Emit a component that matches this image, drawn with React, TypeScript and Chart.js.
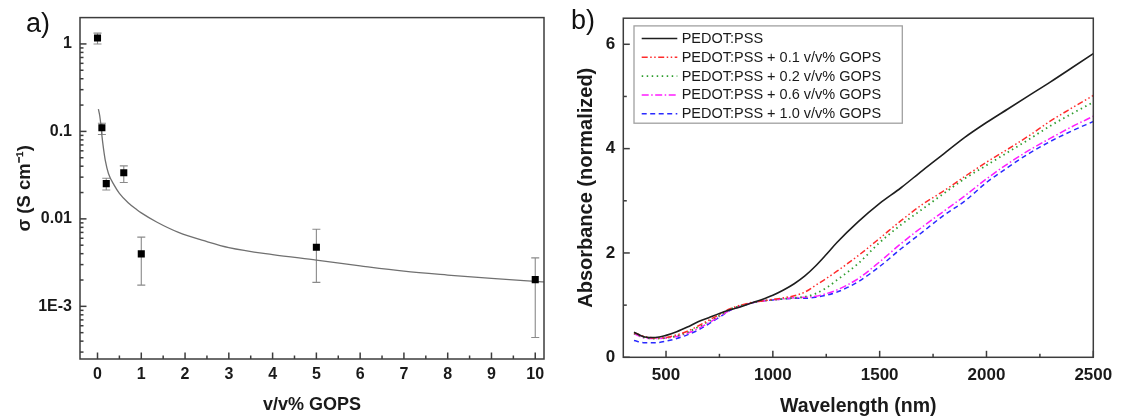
import React, { useEffect, useRef } from 'react';
import { Chart, registerables } from 'chart.js';
Chart.register(...registerables);

// ---------- Panel a: conductivity vs GOPS ----------
const gopsX = [0, 0.1, 0.2, 0.6, 1, 5, 10];
const sigma = [1.17, 0.11, 0.0253, 0.0336, 0.00398, 0.00473, 0.00202];
const sigmaLow = [1.0, 0.092, 0.0214, 0.0261, 0.00175, 0.00188, 0.00044];
const sigmaHigh = [1.33, 0.124, 0.0291, 0.0403, 0.00618, 0.0076, 0.00358];

const fitX = [0.02, 0.05, 0.08, 0.1, 0.14, 0.18, 0.25, 0.38, 0.5, 0.7, 0.9, 1.0, 1.35, 1.85, 2.5, 3.0, 4.0, 5.0, 6.0, 7.0, 8.0, 9.0, 10.0, 10.2];
const fitY = [0.18, 0.152, 0.115, 0.09, 0.062, 0.046, 0.033, 0.0243, 0.0196, 0.0153, 0.0127, 0.0117, 0.0092, 0.0070, 0.0055, 0.0047, 0.0039, 0.00338, 0.0029, 0.00252, 0.00228, 0.00209, 0.00193, 0.0019];

const gopsTicks = [0, 1, 2, 3, 4, 5, 6, 7, 8, 9, 10];
const sigmaTicks = [0.001, 0.01, 0.1, 1];
const sigmaTickLabels = ['1E-3', '0.01', '0.1', '1'];

// ---------- Panel b: absorbance spectra ----------
const wavelengths = [350, 400, 450, 500, 550, 600, 650, 700, 750, 800, 850, 900, 950, 1000, 1050, 1100, 1150, 1200, 1250, 1300, 1400, 1500, 1600, 1700, 1800, 1900, 2000, 2100, 2200, 2300, 2400, 2500];
const absPure = [0.48, 0.39, 0.38, 0.42, 0.49, 0.58, 0.68, 0.76, 0.84, 0.91, 0.97, 1.04, 1.11, 1.19, 1.29, 1.41, 1.56, 1.75, 1.97, 2.2, 2.6, 2.95, 3.25, 3.58, 3.9, 4.22, 4.5, 4.76, 5.02, 5.28, 5.55, 5.82];
const abs01 = [0.47, 0.4, 0.37, 0.38, 0.43, 0.5, 0.6, 0.71, 0.82, 0.93, 1.0, 1.05, 1.08, 1.11, 1.14, 1.18, 1.25, 1.38, 1.51, 1.65, 1.95, 2.28, 2.62, 2.93, 3.19, 3.47, 3.74, 3.99, 4.25, 4.53, 4.78, 5.02];
const abs02 = [0.46, 0.38, 0.36, 0.37, 0.41, 0.48, 0.58, 0.69, 0.8, 0.92, 0.99, 1.04, 1.08, 1.1, 1.12, 1.14, 1.16, 1.22, 1.33, 1.48, 1.8, 2.2, 2.54, 2.84, 3.14, 3.43, 3.68, 3.93, 4.18, 4.44, 4.67, 4.89];
const abs06 = [0.45, 0.37, 0.36, 0.37, 0.4, 0.46, 0.55, 0.66, 0.78, 0.9, 0.98, 1.04, 1.08, 1.1, 1.12, 1.14, 1.15, 1.17, 1.22, 1.29, 1.51, 1.83, 2.18, 2.5, 2.8, 3.1, 3.42, 3.71, 3.97, 4.2, 4.42, 4.62];
const abs10 = [0.32, 0.28, 0.28, 0.31, 0.36, 0.43, 0.52, 0.64, 0.77, 0.9, 0.98, 1.04, 1.08, 1.1, 1.12, 1.13, 1.13, 1.15, 1.19, 1.25, 1.45, 1.74, 2.08, 2.4, 2.72, 3.0, 3.35, 3.64, 3.91, 4.14, 4.34, 4.52];

const seriesLabels = [
  'PEDOT:PSS',
  'PEDOT:PSS + 0.1 v/v% GOPS',
  'PEDOT:PSS + 0.2 v/v% GOPS',
  'PEDOT:PSS + 0.6 v/v% GOPS',
  'PEDOT:PSS + 1.0 v/v% GOPS',
];
const wlTicks = [500, 1000, 1500, 2000, 2500];
const wlMinorTicks = [750, 1250, 1750, 2250];
const absTicks = [0, 2, 4, 6];
const absMinorTicks = [1, 3, 5];

const FONT = "Arial, 'Liberation Sans', Helvetica, sans-serif";
const TXT = '#1a1a1a';

function framePlugin(xMajor: number[], xMinor: number[], yMajor: number[], yMinor: number[]) {
  return {
    id: 'frameTicks',
    afterDraw(chart: any) {
      const { ctx, chartArea: a, scales } = chart;
      ctx.save();
      ctx.strokeStyle = '#3c3c3c';
      ctx.lineWidth = 1.5;
      ctx.lineCap = 'butt';
      const seg = (x1: number, y1: number, x2: number, y2: number) => {
        ctx.beginPath();
        ctx.moveTo(x1, y1);
        ctx.lineTo(x2, y2);
        ctx.stroke();
      };
      for (const v of xMajor) {
        const p = scales.x.getPixelForValue(v);
        seg(p, a.bottom, p, a.bottom - 6.5);
      }
      for (const v of xMinor) {
        const p = scales.x.getPixelForValue(v);
        seg(p, a.bottom, p, a.bottom - 3.5);
      }
      for (const v of yMajor) {
        const p = scales.y.getPixelForValue(v);
        seg(a.left, p, a.left + 6.5, p);
      }
      for (const v of yMinor) {
        const p = scales.y.getPixelForValue(v);
        seg(a.left, p, a.left + 3.5, p);
      }
      ctx.strokeRect(a.left, a.top, a.right - a.left, a.bottom - a.top);
      ctx.restore();
    },
  };
}

const errorBarPlugin = {
  id: 'errorBars',
  beforeDatasetsDraw(chart: any) {
    const { ctx, scales } = chart;
    ctx.save();
    ctx.strokeStyle = '#8a8a8a';
    ctx.lineWidth = 1.1;
    gopsX.forEach((xv, i) => {
      const px = scales.x.getPixelForValue(xv);
      const lo = scales.y.getPixelForValue(sigmaLow[i]);
      const hi = scales.y.getPixelForValue(sigmaHigh[i]);
      ctx.beginPath();
      ctx.moveTo(px, lo);
      ctx.lineTo(px, hi);
      ctx.moveTo(px - 4, lo);
      ctx.lineTo(px + 4, lo);
      ctx.moveTo(px - 4, hi);
      ctx.lineTo(px + 4, hi);
      ctx.stroke();
    });
    ctx.restore();
  },
};

const boxLegendPlugin = {
  id: 'boxLegend',
  afterDraw(chart: any) {
    const { ctx, chartArea: a } = chart;
    const bx = a.left + 10.7;
    const by = a.top + 7.7;
    const bw = 268.3;
    const bh = 97.3;
    ctx.save();
    ctx.fillStyle = '#ffffff';
    ctx.fillRect(bx, by, bw, bh);
    ctx.strokeStyle = '#a0a0a0';
    ctx.lineWidth = 1.3;
    ctx.strokeRect(bx, by, bw, bh);
    ctx.font = `14.5px ${FONT}`;
    ctx.textBaseline = 'middle';
    ctx.textAlign = 'left';
    chart.data.datasets.forEach((ds: any, i: number) => {
      const y = by + 12.6 + i * 18.8;
      ctx.strokeStyle = ds.borderColor;
      ctx.lineWidth = ds.borderWidth;
      ctx.setLineDash(ds.borderDash || []);
      ctx.beginPath();
      ctx.moveTo(bx + 7.7, y);
      ctx.lineTo(bx + 43.3, y);
      ctx.stroke();
      ctx.setLineDash([]);
      ctx.fillStyle = TXT;
      ctx.fillText(ds.label, bx + 47.7, y + 0.5);
    });
    ctx.restore();
  },
};

function logMinor(min: number, max: number) {
  const out: number[] = [];
  for (let e = -5; e <= 1; e++) {
    const d = Math.pow(10, e);
    for (let k = 2; k <= 9; k++) {
      const v = k * d;
      if (v > min && v < max) out.push(v);
    }
  }
  return out;
}

export default function App() {
  const refA = useRef<HTMLCanvasElement>(null);
  const refB = useRef<HTMLCanvasElement>(null);

  useEffect(() => {
    const tickFontA = { family: FONT, size: 16, weight: 'bold' as const, lineHeight: 1.2 };
    const tickFontB = { family: FONT, size: 17, weight: 'bold' as const, lineHeight: 1.2 };
    const yMin = 2.5e-4;
    const yMax = 2;

    const chartA = new Chart(refA.current!, {
      type: 'scatter',
      data: {
        datasets: [
          {
            label: 'points',
            data: gopsX.map((x, i) => ({ x, y: sigma[i] })),
            showLine: false,
            pointStyle: 'rect',
            pointRadius: 5,
            backgroundColor: '#000',
            borderColor: '#000',
            borderWidth: 0,
          },
          {
            label: 'fit',
            data: fitX.map((x, i) => ({ x, y: fitY[i] })),
            showLine: true,
            pointRadius: 0,
            borderColor: '#707070',
            borderWidth: 1.3,
            cubicInterpolationMode: 'monotone',
          },
        ],
      },
      options: {
        animation: false,
        responsive: false,
        devicePixelRatio: 1,
        layout: { padding: { left: 0, right: 16, top: 13, bottom: 0 } },
        plugins: { legend: { display: false }, tooltip: { enabled: false } },
        scales: {
          x: {
            type: 'linear',
            min: -0.4,
            max: 10.2,
            grid: { display: false, drawTicks: false },
            border: { display: false },
            afterBuildTicks: (s: any) => { s.ticks = gopsTicks.map((v) => ({ value: v })); },
            afterFit: (s: any) => { s.height = 60; },
            ticks: { font: tickFontA, color: TXT, padding: 6.3, autoSkip: false, maxRotation: 0, callback: (v: any) => String(v) },
            title: { display: true, text: 'v/v% GOPS', color: TXT, font: { family: FONT, size: 18, weight: 'bold', lineHeight: 1.2 }, padding: { top: 0, bottom: 3.5 } },
          },
          y: {
            type: 'logarithmic',
            min: yMin,
            max: yMax,
            grid: { display: false, drawTicks: false },
            border: { display: false },
            afterBuildTicks: (s: any) => { s.ticks = sigmaTicks.map((v) => ({ value: v })); },
            afterFit: (s: any) => { s.width = 80; },
            ticks: {
              font: tickFontA,
              color: TXT,
              padding: 8,
              autoSkip: false,
              callback: (v: any) => {
                const idx = sigmaTicks.findIndex((t) => Math.abs(Math.log10(t) - Math.log10(Number(v))) < 1e-6);
                return idx >= 0 ? sigmaTickLabels[idx] : '';
              },
            },
            title: { display: true, text: 'σ (S cm⁻¹)', color: TXT, font: { family: FONT, size: 18.5, weight: 'bold', lineHeight: 1.2 }, padding: { top: 14, bottom: 0 } },
          },
        },
      } as any,
      plugins: [errorBarPlugin, framePlugin(gopsTicks, gopsTicks.slice(0, -1).map((v) => v + 0.5), sigmaTicks, logMinor(yMin, yMax))],
    } as any);

    const series = [absPure, abs01, abs02, abs06, abs10];
    const colors = ['#1e1e1e', '#ff2b2b', '#2f9e2f', '#ff1cff', '#2b2bff'];
    const dashes = [[], [6, 2.5, 1.5, 2.5, 1.5, 2.5], [1.5, 3.5], [7, 2.5, 1.5, 2.5], [5, 3.5]];
    const widths = [1.6, 1.5, 1.8, 1.5, 1.5];

    const chartB = new Chart(refB.current!, {
      type: 'line',
      data: {
        datasets: series.map((vals, si) => ({
          label: seriesLabels[si],
          data: wavelengths.map((w, i) => ({ x: w, y: vals[i] })),
          borderColor: colors[si],
          borderDash: dashes[si],
          borderWidth: widths[si],
          pointRadius: 0,
          cubicInterpolationMode: 'monotone',
          fill: false,
        })),
      },
      options: {
        animation: false,
        responsive: false,
        devicePixelRatio: 1,
        layout: { padding: { left: 0, right: 27.7, top: 12.3, bottom: 0 } },
        plugins: { legend: { display: false }, tooltip: { enabled: false } },
        scales: {
          x: {
            type: 'linear',
            min: 300,
            max: 2500,
            grid: { display: false, drawTicks: false },
            border: { display: false },
            afterBuildTicks: (s: any) => { s.ticks = wlTicks.map((v) => ({ value: v })); },
            afterFit: (s: any) => { s.height = 61.7; },
            ticks: { font: tickFontB, color: TXT, padding: 8.3, autoSkip: false, maxRotation: 0, callback: (v: any) => String(v) },
            title: { display: true, text: 'Wavelength (nm)', color: TXT, font: { family: FONT, size: 19.5, weight: 'bold', lineHeight: 1.2 }, padding: { top: 0, bottom: 0.5 } },
          },
          y: {
            type: 'linear',
            min: 0,
            max: 6.5,
            grid: { display: false, drawTicks: false },
            border: { display: false },
            afterBuildTicks: (s: any) => { s.ticks = absTicks.map((v) => ({ value: v })); },
            afterFit: (s: any) => { s.width = 63.3; },
            ticks: { font: tickFontB, color: TXT, padding: 8, autoSkip: false, callback: (v: any) => String(v) },
            title: { display: true, text: 'Absorbance (normalized)', color: TXT, font: { family: FONT, size: 20, weight: 'bold', lineHeight: 1.2 }, padding: { top: 14, bottom: 0 } },
          },
        },
      } as any,
      plugins: [boxLegendPlugin, framePlugin(wlTicks, wlMinorTicks, absTicks, absMinorTicks)],
    } as any);

    return () => {
      chartA.destroy();
      chartB.destroy();
    };
  }, []);

  const panelLabel: React.CSSProperties = {
    position: 'absolute',
    fontFamily: FONT,
    fontSize: 27,
    lineHeight: '30px',
    color: '#111',
  };

  return (
    <div style={{ position: 'absolute', left: 0, top: 0, width: 1121, height: 419, background: '#fff', overflow: 'hidden' }}>
      <canvas ref={refA} width={560} height={419} style={{ position: 'absolute', left: 0, top: 0, width: 560, height: 419 }} />
      <canvas ref={refB} width={561} height={419} style={{ position: 'absolute', left: 560, top: 0, width: 561, height: 419 }} />
      <div style={{ ...panelLabel, left: 26, top: 8 }}>a)</div>
      <div style={{ ...panelLabel, left: 571, top: 5 }}>b)</div>
    </div>
  );
}
